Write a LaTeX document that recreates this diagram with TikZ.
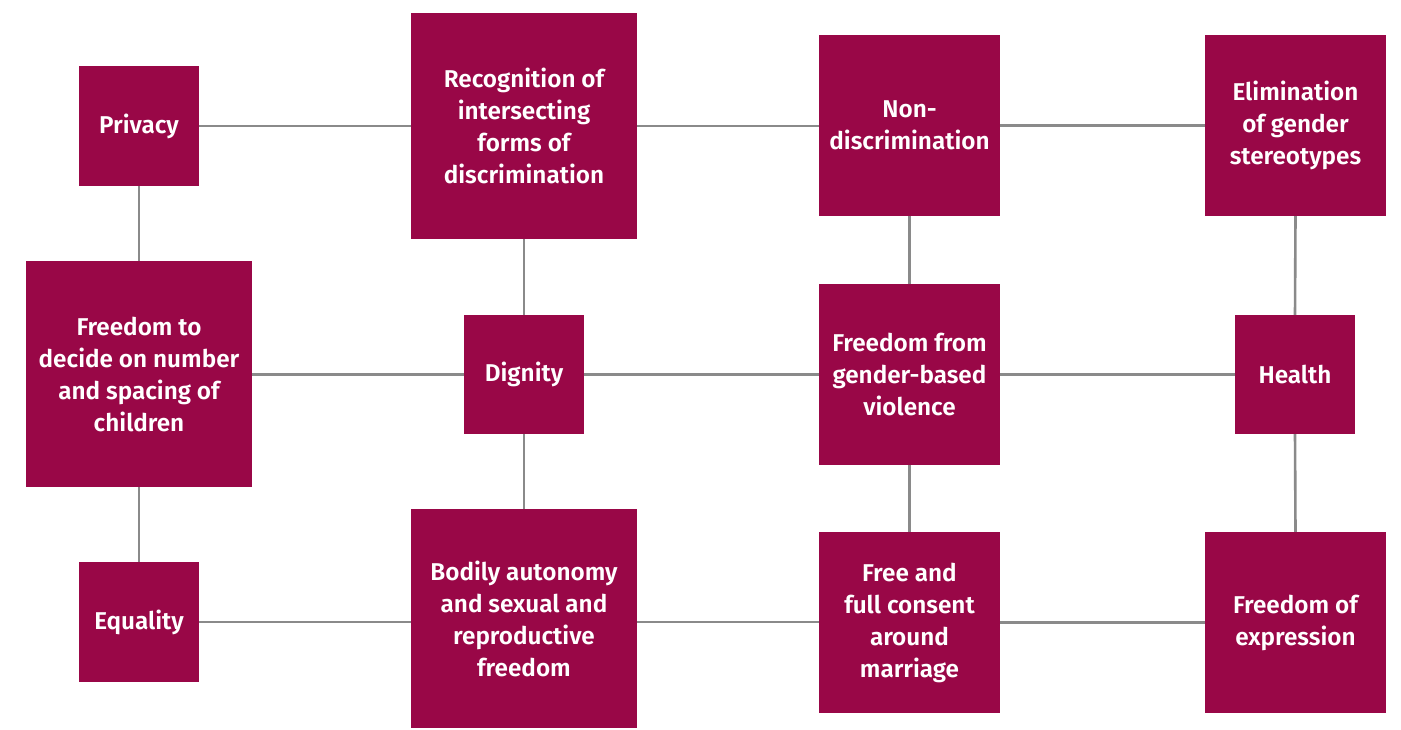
\documentclass[tikz,border=0pt]{standalone}
\usepackage{fontspec}
\setmainfont{Fira Sans}[BoldFont={Fira Sans SemiBold}]
\definecolor{boxc}{HTML}{990747}
\definecolor{linec}{HTML}{8A8A8A}
\begin{document}
\begin{tikzpicture}[x=1pt,y=-1pt,
  box/.style={fill=boxc, text=white, align=center, inner sep=0pt,
    font=\fontsize{24.3}{32}\selectfont\bfseries},
  link/.style={draw=linec, line width=2.6pt}]
\useasboundingbox (0,0) rectangle (1401,729);
\newcommand{\bx}[6]{\node[box, minimum width=#4-#2, minimum height=#5-#3] (#1) at ({(#2+#4)/2},{(#3+#5)/2}) {#6};}
% nodes
\bx{privacy}{79}{66}{199}{186}{Privacy}
\bx{recog}{411}{13}{637}{239}{Recognition of\\intersecting\\forms of\\discrimination}
\bx{nondisc}{819}{35}{1000}{216}{Non-\\discrimination}
\bx{elim}{1205}{35}{1386}{216}{Elimination\\of gender\\stereotypes}
\bx{decide}{26}{261}{252}{487}{Freedom to\\decide on number\\and spacing of\\children}
\bx{dignity}{464}{315}{584}{434}{Dignity}
\bx{gbv}{819}{284}{1000}{465}{Freedom from\\gender-based\\violence}
\bx{health}{1235}{315}{1355}{434}{Health}
\bx{equality}{79}{562}{199}{682}{Equality}
\bx{bodily}{411}{509}{637}{728}{Bodily autonomy\\and sexual and\\reproductive\\freedom}
\bx{consent}{819}{532}{1000}{713}{Free and\\full consent\\around\\marriage}
\bx{expr}{1205}{532}{1386}{713}{Freedom of\\expression}
% horizontal links
\draw[link] (privacy.east) -- (privacy.east -| recog.west);
\draw[link] (recog.east |- privacy.east) -- (nondisc.west |- privacy.east);
\draw[link] (nondisc.east) -- (elim.west);
\draw[link] (decide.east |- dignity.west) -- (dignity.west);
\draw[link] (dignity.east) -- (dignity.east -| gbv.west);
\draw[link] (gbv.east |- dignity.east) -- (health.west);
\draw[link] (equality.east) -- (equality.east -| bodily.west);
\draw[link] (bodily.east |- equality.east) -- (consent.west |- equality.east);
\draw[link] (consent.east) -- (expr.west);
% vertical links
\draw[link] (privacy.south) -- (decide.north);
\draw[link] (decide.south) -- (equality.north);
\draw[link] (recog.south) -- (dignity.north);
\draw[link] (dignity.south) -- (bodily.north);
\draw[link] (nondisc.south) -- (gbv.north);
\draw[link] (gbv.south) -- (consent.north);
\draw[link] (elim.south) -- (health.north);
\draw[link] (health.south) -- (expr.north);
\end{tikzpicture}
\end{document}
